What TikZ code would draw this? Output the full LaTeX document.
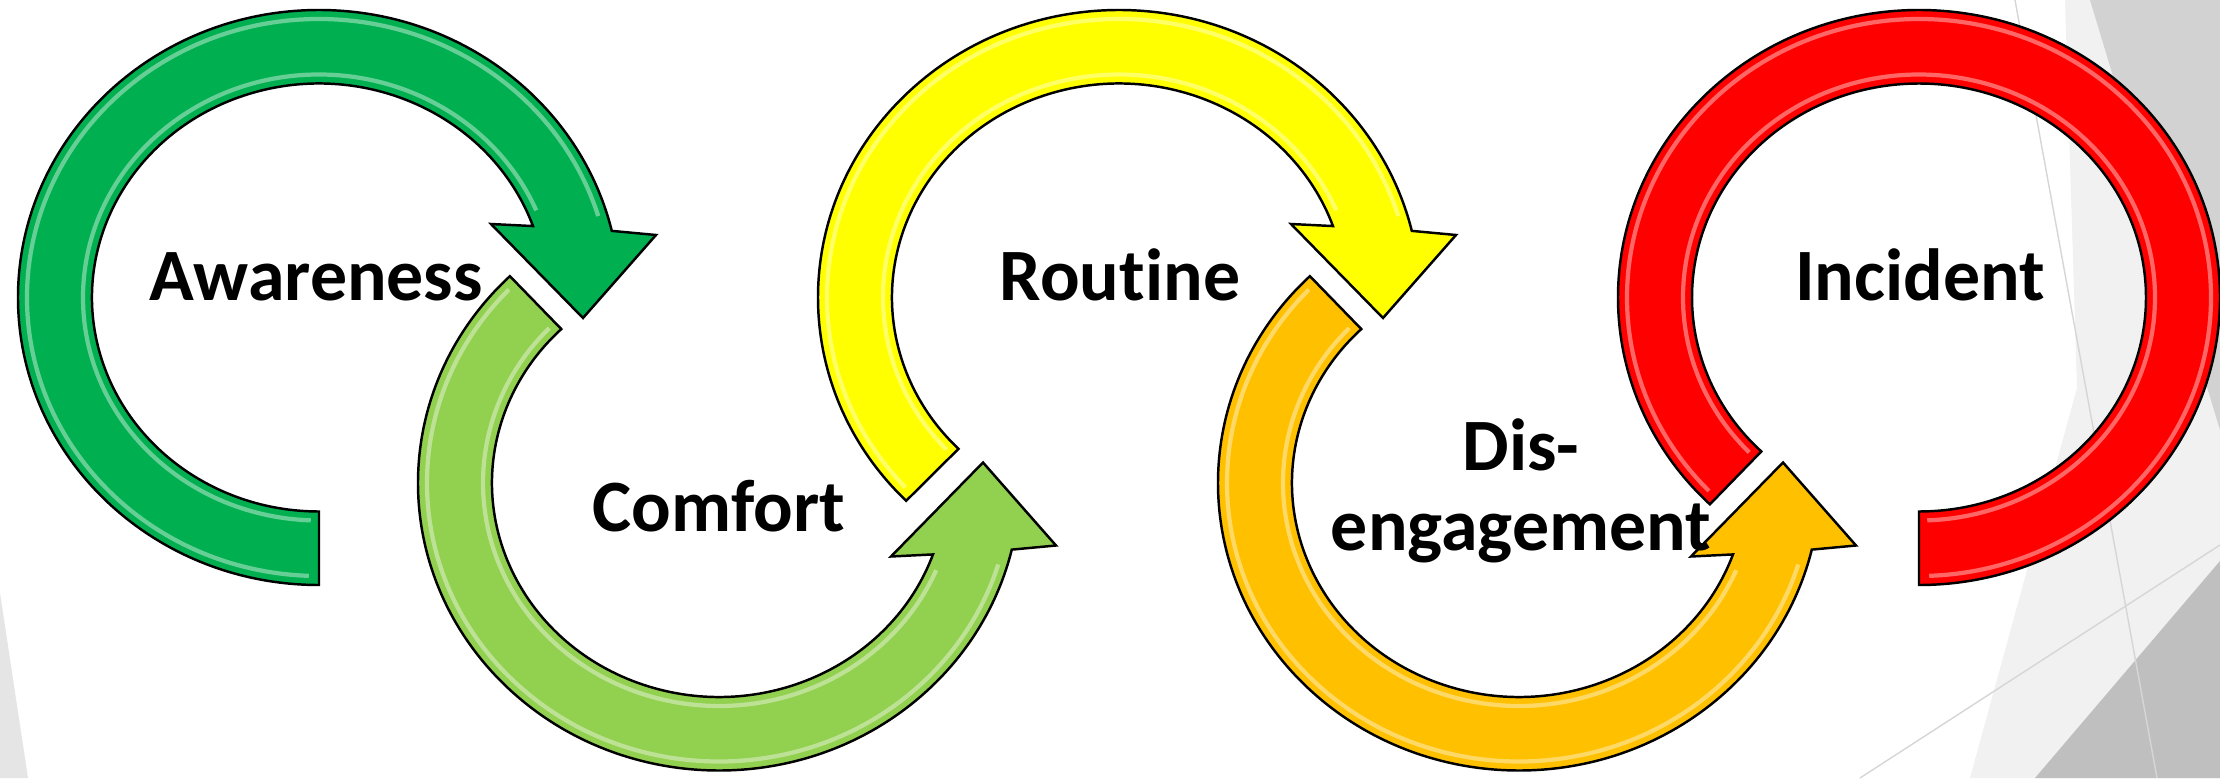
\documentclass[tikz,border=0pt]{standalone}
\usepackage{fontspec}
\setmainfont{Carlito}[Ligatures={NoCommon,NoContextual}]

\definecolor{pptgreen}{HTML}{00B050}
\definecolor{pptlime}{HTML}{92D050}
\definecolor{pptyellow}{HTML}{FFFF00}
\definecolor{pptamber}{HTML}{FFC000}
\definecolor{pptred}{HTML}{FF0000}
\definecolor{facetlight}{HTML}{F1F1F1}
\definecolor{facetmid}{HTML}{D2D2D2}
\definecolor{facetdark}{HTML}{BFBFBF}
\definecolor{facetline}{HTML}{D6D6D6}

\tikzstyle{band}    = [draw=black, line width=0.7pt, line join=miter]
\tikzstyle{rgreen}  = [band, fill=pptgreen]
\tikzstyle{rlime}   = [band, fill=pptlime]
\tikzstyle{ryellow} = [band, fill=pptyellow]
\tikzstyle{ramber}  = [band, fill=pptamber]
\tikzstyle{rred}    = [band, fill=pptred]
\tikzstyle{glint}   = [white, opacity=0.4, line width=1.2pt]
\tikzstyle{lbl}     = [font=\fontsize{21}{23}\selectfont\bfseries, anchor=base, inner sep=0pt]

% ring arrow turning clockwise: style, centre x, centre y, tail angle
\def\cwarrow#1#2#3#4{
  \begin{scope}[shift={(#2,#3)}]
    \filldraw[#1] (#4:301 and 287.5)
      arc[start angle=#4, end angle=13.4, x radius=301, y radius=287.5]
      -- (337,62.5) -- (264,-20.5) -- (172,73.5) -- (19.5:227 and 214)
      arc[start angle=19.5, end angle=#4, x radius=227, y radius=214] -- cycle;
    \draw[glint] (#4-2:292 and 278.5)
      arc[start angle=#4-2, end angle=17, x radius=292, y radius=278.5];
    \draw[glint] (#4-2:236 and 223)
      arc[start angle=#4-2, end angle=23, x radius=236, y radius=223];
  \end{scope}
}
% ring arrow turning anticlockwise: style, centre x, centre y, tail angle
\def\ccwarrow#1#2#3#4{
  \begin{scope}[shift={(#2,#3)}]
    \filldraw[#1] (#4:301 and 287.5)
      arc[start angle=#4, end angle=346.6, x radius=301, y radius=287.5]
      -- (337,-62.5) -- (264,20.5) -- (172,-73.5) -- (340.5:227 and 214)
      arc[start angle=340.5, end angle=#4, x radius=227, y radius=214] -- cycle;
    \draw[glint] (#4+2:292 and 278.5)
      arc[start angle=#4+2, end angle=343, x radius=292, y radius=278.5];
    \draw[glint] (#4+2:236 and 223)
      arc[start angle=#4+2, end angle=337, x radius=236, y radius=223];
  \end{scope}
}

\begin{document}
\begin{tikzpicture}[x=0.01cm, y=0.01cm]
  \useasboundingbox (0,0) rectangle (2220,778);
  \fill[white] (0,0) rectangle (2220,778);

  % facet background
  \fill[facetlight!95!black] (0,185) -- (28,0) -- (0,0) -- cycle;
  \fill[facetlight] (2065,778) -- (2220,778) -- (2220,0) -- (1970,0) -- (2077,390) -- cycle;
  \fill[facetmid] (2090,778) -- (2220,778) -- (2220,348) -- cycle;
  \fill[facetdark] (2035,0) -- (2220,217) -- (2220,0) -- cycle;
  \draw[facetline] (2015,778) -- (2157,0);
  \draw[facetline] (1860,0) -- (2220,233);

  % the five rings
  \cwarrow{rgreen}{319}{480.5}{270}
  \ccwarrow{rlime}{719}{295}{134}
  \cwarrow{ryellow}{1119}{480.5}{225}
  \ccwarrow{ramber}{1519}{295}{134}
  \begin{scope}[shift={(1919,480.5)}]
    \filldraw[rred] (226:301 and 287.5)
      arc[start angle=226, end angle=-90, x radius=301, y radius=287.5]
      -- (-90:227 and 214)
      arc[start angle=-90, end angle=226, x radius=227, y radius=214] -- cycle;
    \draw[glint] (224:292 and 278.5)
      arc[start angle=224, end angle=-88, x radius=292, y radius=278.5];
    \draw[glint] (224:236 and 223)
      arc[start angle=224, end angle=-88, x radius=236, y radius=223];
  \end{scope}

  % labels
  \node[lbl] (awareness) at (316,478) {Awareness};
  \node[lbl] (comfort)   at (719,247) {Comfort};
  \node[lbl] (routine)   at (1120,478) {Routine};
  \node[lbl] (dis)       at (1521,308) {Dis-};
  \node[lbl] (engage)    at (1521,228) {engagement};
  \node[lbl] (incident)  at (1920,478) {Incident};
\end{tikzpicture}
\end{document}
